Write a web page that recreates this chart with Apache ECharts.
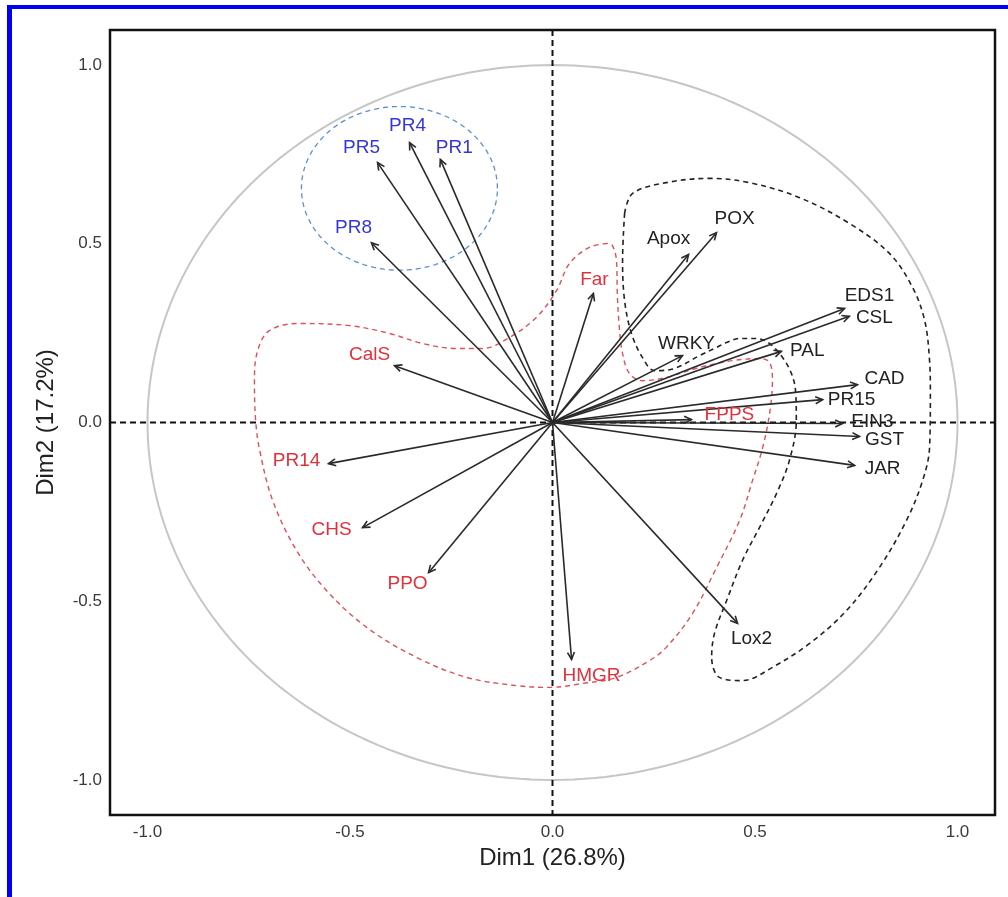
<!DOCTYPE html>
<html><head><meta charset="utf-8">
<script src="https://cdn.jsdelivr.net/npm/echarts@6/dist/echarts.min.js"></script>
<style>html,body{margin:0;padding:0;background:#fff}#c{width:1008px;height:897px}</style>
</head><body><div id="c"></div><script>
// ---- data ----
const variables = ['PR5','PR4','PR1','PR8','Far','Apox','POX','EDS1','CSL','WRKY','PAL','CAD','PR15','FPPS','EIN3','GST','JAR','Lox2','HMGR','PPO','CHS','PR14','CalS'];
const dim1 = [-0.432,-0.353,-0.277,-0.447,0.101,0.336,0.405,0.721,0.733,0.321,0.565,0.753,0.667,0.343,0.716,0.758,0.746,0.457,0.047,-0.306,-0.469,-0.553,-0.390];
const dim2 = [0.727,0.783,0.736,0.503,0.361,0.470,0.531,0.319,0.297,0.187,0.199,0.106,0.064,0.008,-0.003,-0.039,-0.120,-0.562,-0.663,-0.420,-0.294,-0.115,0.159];
const groups = ['blue','blue','blue','blue','red','black','black','black','black','black','black','black','black','red','black','black','black','black','red','red','red','red','red'];
const xTicks = [-1.0,-0.5,0.0,0.5,1.0];
const yTicks = [-1.0,-0.5,0.0,0.5,1.0];
const blackHull = [[0.178,0.585],[0.198,0.641],[0.281,0.671],[0.388,0.683],[0.486,0.671],[0.610,0.629],[0.733,0.557],[0.832,0.473],[0.889,0.378],[0.919,0.285],[0.931,0.173],[0.933,0.081],[0.931,-0.070],[0.914,-0.162],[0.874,-0.274],[0.807,-0.406],[0.726,-0.526],[0.635,-0.618],[0.543,-0.685],[0.469,-0.722],[0.412,-0.713],[0.393,-0.657],[0.400,-0.590],[0.430,-0.498],[0.469,-0.386],[0.511,-0.294],[0.553,-0.199],[0.585,-0.106],[0.602,0.006],[0.600,0.090],[0.590,0.137],[0.568,0.182],[0.536,0.221],[0.504,0.235],[0.462,0.235],[0.430,0.224],[0.405,0.210],[0.363,0.187],[0.301,0.151],[0.252,0.145],[0.222,0.182],[0.195,0.249],[0.178,0.341],[0.173,0.453],[0.178,0.585]];
const redHull = [[0.136,0.501],[0.091,0.490],[0.042,0.445],[0.010,0.369],[-0.040,0.294],[-0.106,0.238],[-0.173,0.207],[-0.237,0.207],[-0.321,0.221],[-0.402,0.249],[-0.501,0.271],[-0.625,0.277],[-0.699,0.257],[-0.728,0.201],[-0.736,0.117],[-0.733,0.006],[-0.723,-0.078],[-0.691,-0.218],[-0.632,-0.358],[-0.558,-0.470],[-0.459,-0.573],[-0.336,-0.657],[-0.212,-0.713],[-0.089,-0.736],[-0.007,-0.741],[0.074,-0.730],[0.158,-0.713],[0.240,-0.666],[0.281,-0.629],[0.346,-0.534],[0.405,-0.406],[0.462,-0.274],[0.494,-0.162],[0.519,-0.070],[0.536,0.025],[0.543,0.117],[0.536,0.168],[0.511,0.179],[0.444,0.173],[0.363,0.154],[0.281,0.126],[0.222,0.117],[0.190,0.137],[0.173,0.193],[0.165,0.266],[0.160,0.361],[0.158,0.453],[0.148,0.495],[0.136,0.501]];
const blueEllipseCenter = [-0.378, 0.655];
const blueEllipseRadii = [0.242, 0.229];
const unitCircleRadius = [1.0];

// ---- styles / label placement (pixels) ----
const labelOffsets = {PR5:[-16,-15],PR4:[-2,-17],PR1:[14,-12],PR8:[-18,-15],Far:[1,-14],Apox:[-20,-16],POX:[18,-14],EDS1:[25,-13],CSL:[25,1],WRKY:[4,-12],PAL:[26,-1],CAD:[27,-6],PR15:[29,0],FPPS:[38,-5],EIN3:[30,-2],GST:[25,3],JAR:[28,3],Lox2:[14,15],HMGR:[20,16],PPO:[-21,11],CHS:[-31,2],PR14:[-32,-3],CalS:[-25,-11]};
const groupColors = {blue:'#3535e0', red:'#e2303c', black:'#222222'};
const FONT = '"Liberation Sans", Arial, Helvetica, sans-serif';

const chart = echarts.init(document.getElementById('c'), null, {renderer:'canvas'});

function ellipsePoints(api, c, rx, ry, n){
  const pts=[];
  for(let k=0;k<=n;k++){
    const t=2*Math.PI*k/n;
    pts.push(api.coord([c[0]+rx*Math.cos(t), c[1]+ry*Math.sin(t)]));
  }
  return pts;
}

const option = {
  animation:false,
  backgroundColor:'#fff',
  graphic:[
    {type:'rect', left:7, top:5, shape:{width:1001, height:4}, style:{fill:'#0000f5'}, z:100},
    {type:'rect', left:7, top:5, shape:{width:5, height:892}, style:{fill:'#0000f5'}, z:100}
  ],
  grid:{left:110, right:13, top:30, bottom:82, show:true, borderColor:'#111', borderWidth:2.5, backgroundColor:'transparent'},
  xAxis:{type:'value', min:-1.0926, max:1.0926,
    axisLine:{show:false}, axisTick:{show:false}, splitLine:{show:false},
    axisLabel:{customValues:xTicks, formatter:v=>v.toFixed(1), color:'#3a3a3a', fontSize:17, fontFamily:FONT, margin:9},
    name:'Dim1 (26.8%)', nameLocation:'middle', nameGap:28,
    nameTextStyle:{fontSize:24, color:'#222', fontFamily:FONT}},
  yAxis:{type:'value', min:-1.098, max:1.098,
    axisLine:{show:false}, axisTick:{show:false}, splitLine:{show:false},
    axisLabel:{customValues:yTicks, formatter:v=>v.toFixed(1), color:'#3a3a3a', fontSize:17, fontFamily:FONT, margin:8},
    name:'Dim2 (17.2%)', nameLocation:'middle', nameGap:52, nameRotate:90,
    nameTextStyle:{fontSize:24, color:'#222', fontFamily:FONT}},
  series:[
    { // unit circle + reference lines
      type:'custom', coordinateSystem:'cartesian2d', data:[[0,0]], z:1, silent:true,
      renderItem(params, api){
        const cs = params.coordSys;
        const o = api.coord([0,0]);
        return {type:'group', children:[
          {type:'polyline', shape:{points:ellipsePoints(api,[0,0],unitCircleRadius[0],unitCircleRadius[0],240)}, style:{stroke:'#c6c6c6', lineWidth:2, fill:null}},
          {type:'line', shape:{x1:cs.x, y1:o[1], x2:cs.x+cs.width, y2:o[1]}, style:{stroke:'#111', lineWidth:2, lineDash:[6,4]}},
          {type:'line', shape:{x1:o[0], y1:cs.y, x2:o[0], y2:cs.y+cs.height}, style:{stroke:'#111', lineWidth:2, lineDash:[6,4]}},
          {type:'polyline', shape:{points:ellipsePoints(api,blueEllipseCenter,blueEllipseRadii[0],blueEllipseRadii[1],120)}, style:{stroke:'#5b8fd0', lineWidth:1.3, lineDash:[5,4], fill:null}}
        ]};
      }
    },
    {type:'line', data:blackHull, smooth:0.35, symbol:'none', silent:true, z:2,
      lineStyle:{color:'#222', width:1.6, type:[5,4]}},
    {type:'line', data:redHull, smooth:0.35, symbol:'none', silent:true, z:2,
      lineStyle:{color:'#e05058', width:1.4, type:[5,4]}},
    { // arrows + labels
      type:'custom', coordinateSystem:'cartesian2d', z:5, silent:true,
      data: variables.map((n,i)=>[dim1[i], dim2[i], i]),
      renderItem(params, api){
        const i = api.value(2);
        const name = variables[i];
        const o = api.coord([0,0]);
        const p = api.coord([api.value(0), api.value(1)]);
        const ang = Math.atan2(p[1]-o[1], p[0]-o[0]);
        const L = 8, a = Math.PI/7;
        const h1 = [p[0]-L*Math.cos(ang-a), p[1]-L*Math.sin(ang-a)];
        const h2 = [p[0]-L*Math.cos(ang+a), p[1]-L*Math.sin(ang+a)];
        const off = labelOffsets[name];
        return {type:'group', children:[
          {type:'line', shape:{x1:o[0],y1:o[1],x2:p[0],y2:p[1]}, style:{stroke:'#2a2a2a', lineWidth:1.6}},
          {type:'polyline', shape:{points:[h1,p,h2]}, style:{stroke:'#2a2a2a', lineWidth:1.6, fill:null}},
          {type:'text', x:p[0]+off[0], y:p[1]+off[1],
            style:{text:name, fill:groupColors[groups[i]], font:'19px '+FONT, align:'center', verticalAlign:'middle'}}
        ]};
      }
    }
  ]
};
chart.setOption(option);
</script></body></html>
